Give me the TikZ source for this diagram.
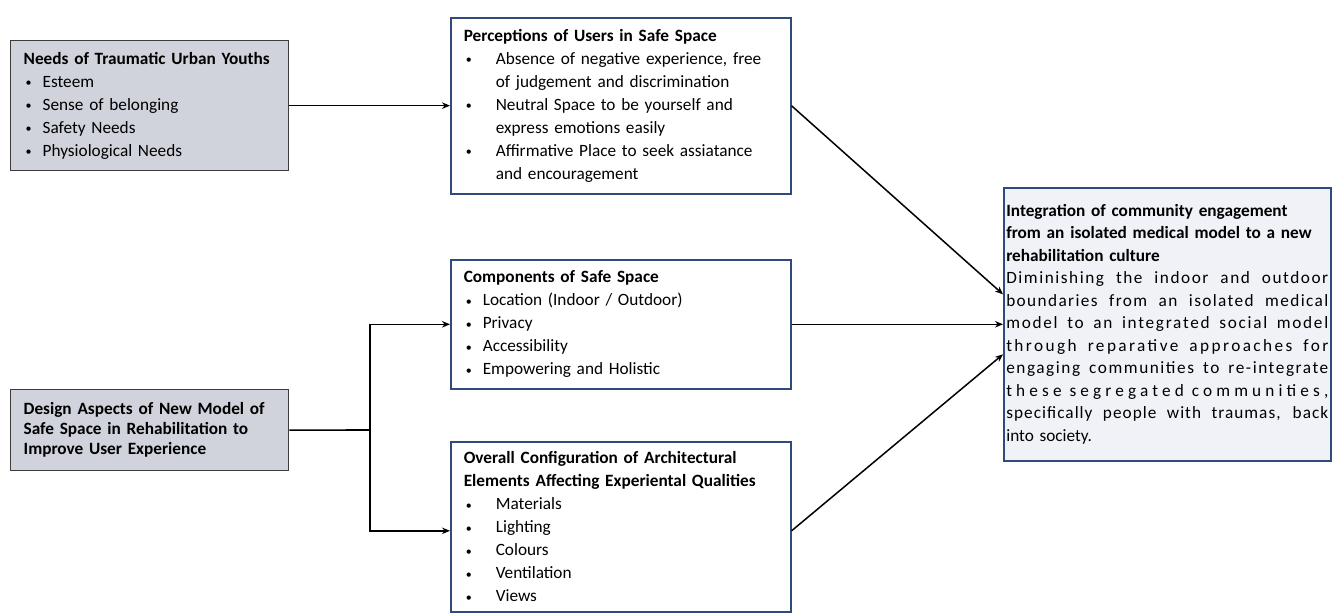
\documentclass[tikz,border=0pt]{standalone}
\usepackage{fontspec}
\setmainfont{Carlito}
\usetikzlibrary{arrows.meta,calc}
\definecolor{navy}{HTML}{2F4B7C}
\definecolor{greyfill}{HTML}{D0D3DB}
\definecolor{greyline}{HTML}{3C3C3C}
\definecolor{palefill}{HTML}{F1F2F8}
\newcommand{\dotmark}{\raisebox{0.8pt}{\fontsize{12}{12}\selectfont •}}
\newcommand{\bls}[1]{\makebox[19pt][l]{\hspace{2pt}\dotmark}#1}
\newcommand{\bll}[1]{\makebox[32pt][l]{\hspace{2pt}\dotmark}#1}
\newcommand{\jline}[1]{\leavevmode\hbox to 322pt{\spaceskip=0.22em plus 1em minus 0.08em\relax\xspaceskip=\spaceskip #1}}
\begin{document}
\begin{tikzpicture}[x=1pt,y=-1pt,
 box/.style={draw=navy, line width=1.6pt, fill=white, anchor=north west, align=left,
   inner xsep=13pt, inner ysep=0pt, font=\fontsize{17.25}{23}\selectfont},
 greybox/.style={box, draw=greyline, fill=greyfill, line width=1.3pt},
 arr/.style={-{Stealth[length=8pt,width=6.5pt]}, line width=1.5pt}]
\useasboundingbox (0,0) rectangle (1336,613);

\node[greybox, minimum width=278, minimum height=130, text width=252] (needs) at (10,40)
{\textbf{Needs of Traumatic Urban Youths}\\
\bls{Esteem}\\
\bls{Sense of belonging}\\
\bls{Safety Needs}\\
\bls{Physiological Needs}};

\node[greybox, minimum width=278, minimum height=81, text width=252,
  font=\fontsize{17.25}{20}\selectfont] (design) at (10,389)
{\textbf{Design Aspects of New Model of}\\
\textbf{Safe Space in Rehabilitation to}\\
\textbf{Improve User Experience}};

\node[box, minimum width=340, minimum height=176, text width=314] (percep) at (450,17)
{\textbf{Perceptions of Users in Safe Space}\\
\bll{Absence of negative experience, free}\\
\hspace*{32pt}of judgement and discrimination\\
\bll{Neutral Space to be yourself and}\\
\hspace*{32pt}express emotions easily\\
\bll{Affirmative Place to seek assiatance}\\
\hspace*{32pt}and encouragement};

\node[box, minimum width=340, minimum height=129, text width=314] (comp) at (450,259)
{\textbf{Components of Safe Space}\\
\bls{Location (Indoor / Outdoor)}\\
\bls{Privacy}\\
\bls{Accessibility}\\
\bls{Empowering and Holistic}};

\node[box, minimum width=340, minimum height=170, text width=314] (overall) at (450,441)
{\textbf{Overall Configuration of Architectural}\\
\textbf{Elements Affecting Experiental Qualities}\\
\bll{Materials}\\
\bll{Lighting}\\
\bll{Colours}\\
\bll{Ventilation}\\
\bll{Views}};

\node[box, fill=palefill, minimum width=327, minimum height=273, text width=322,
  inner xsep=2.5pt, font=\fontsize{17.25}{22.5}\selectfont] (integ) at (1003,187)
{\textbf{Integration of community engagement}\\
\textbf{from an isolated medical model to a new}\\
\textbf{rehabilitation culture}\\
\jline{\addfontfeature{LetterSpace=9}Diminishing the indoor and outdoor}\\
\jline{\addfontfeature{LetterSpace=8}boundaries from an isolated medical}\\
\jline{\addfontfeature{LetterSpace=10}model to an integrated social model}\\
\jline{\addfontfeature{LetterSpace=14}through reparative approaches for}\\
\jline{\addfontfeature{LetterSpace=9}engaging communities to re-integrate}\\
\jline{\addfontfeature{LetterSpace=24}these segregated communities,}\\
\jline{\addfontfeature{LetterSpace=6}specifically people with traumas, back}\\
into society.};

\coordinate (jn) at (370,430);

\draw[arr] (needs.east) -- (needs.east -| percep.west);
\draw[line width=1.6pt] (design.east) -- (jn);
\draw[arr, line width=1.6pt] (jn) |- (comp.west);
\draw[arr, line width=1.6pt] (jn) |- ($(overall.west)+(0,4)$);
\draw[arr] (percep.east) -- ($(integ.west)+(0,-30)$);
\draw[arr] (comp.east) -- (integ.west);
\draw[arr] ($(overall.east)+(0,4)$) -- ($(integ.west)+(0,30)$);
\end{tikzpicture}
\end{document}
